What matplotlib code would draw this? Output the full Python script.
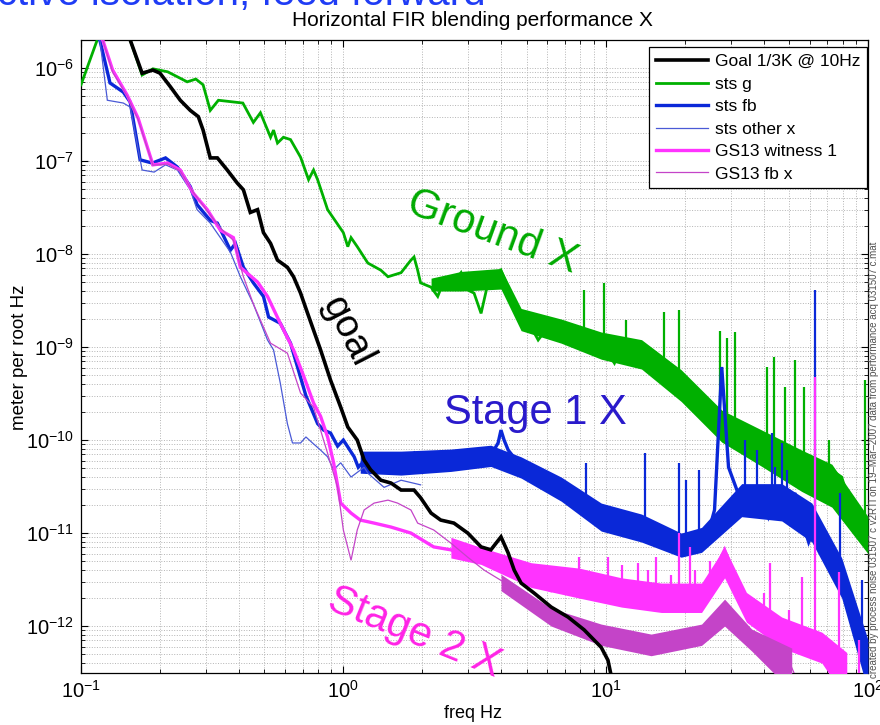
import matplotlib
matplotlib.use('Agg')
import matplotlib.pyplot as plt
from matplotlib.lines import Line2D
from matplotlib.ticker import LogLocator, NullFormatter
import numpy as np

plt.rcParams['font.family'] = ['Liberation Sans', 'DejaVu Sans']
plt.rcParams['mathtext.default'] = 'regular'

# Spectra (freq in Hz, amplitude in m/rtHz)
GOAL_F = [0.12, 0.154, 0.171, 0.188, 0.200, 0.219, 0.239, 0.261, 0.280, 0.292, 0.311, 0.331,
          0.361, 0.394, 0.416, 0.442, 0.471, 0.496, 0.528, 0.561, 0.612, 0.646, 0.687, 0.731,
          0.770, 0.819, 0.894, 0.977, 1.04, 1.13, 1.20, 1.27, 1.39, 1.52, 1.66, 1.86, 1.97,
          2.16, 2.35, 2.64, 2.98, 3.35, 3.65, 3.99, 4.25, 4.48, 4.76, 5.34, 6.20, 7.19, 8.28,
          9.62, 10.2, 10.8]
GOAL_A = [5e-6, 2.0e-6, 8.8e-7, 9.5e-7, 8.8e-7, 6.3e-7, 4.5e-7, 3.5e-7, 3.0e-7, 2.15e-7,
          1.08e-7, 1.08e-7, 8.0e-8, 5.8e-8, 4.9e-8, 2.8e-8, 3.0e-8, 1.7e-8, 1.3e-8, 8.6e-9,
          7.2e-9, 5.7e-9, 3.8e-9, 2.3e-9, 1.52e-9, 9.3e-10, 4.4e-10, 2.26e-10, 1.38e-10,
          1.0e-10, 6.1e-11, 4.8e-11, 3.7e-11, 3.45e-11, 2.9e-11, 2.9e-11, 2.4e-11, 1.64e-11,
          1.38e-11, 1.28e-11, 1.0e-11, 7.1e-12, 6.6e-12, 9.1e-12, 6.1e-12, 4.0e-12, 2.9e-12,
          2.26e-12, 1.6e-12, 1.25e-12, 9.1e-13, 5.9e-13, 4.3e-13, 2.0e-13]

STSG_F = [0.100, 0.118, 0.135, 0.154, 0.171, 0.188, 0.214, 0.254, 0.274, 0.292, 0.311, 0.334,
          0.414, 0.454, 0.483, 0.528, 0.542, 0.561, 0.591, 0.629, 0.687, 0.737, 0.770, 0.798,
          0.871, 1.00, 1.04, 1.07, 1.13, 1.24, 1.39, 1.48, 1.66, 1.81, 1.86, 1.92, 1.97, 2.16,
          2.29, 2.42, 2.57, 2.81, 2.98, 3.15, 3.35, 3.56, 3.75, 3.99, 4.25, 4.48, 4.76, 5.20,
          5.53, 6.03, 6.77, 7.58, 8.58, 9.37, 10.2, 10.8, 11.5, 12.9, 17.3, 20.7, 25.3, 31.0,
          41.8, 49.8, 59.4, 63.8, 70.9, 79.4, 89.1, 100]
STSG_A = [6.6e-7, 2.4e-6, 4.0e-6, 2.0e-6, 8.4e-7, 9.8e-7, 9.1e-7, 7.1e-7, 7.6e-7, 6.6e-7,
          3.5e-7, 4.5e-7, 4.2e-7, 2.6e-7, 3.3e-7, 1.8e-7, 2.15e-7, 1.56e-7, 1.8e-7, 1.7e-7,
          1.1e-7, 6.3e-8, 8.0e-8, 6.3e-8, 3.0e-8, 1.7e-8, 1.2e-8, 1.5e-8, 1.2e-8, 8.0e-9,
          6.7e-9, 5.7e-9, 6.3e-9, 8.6e-9, 9.3e-9, 6.7e-9, 4.9e-9, 4.4e-9, 3.5e-9, 5.2e-9,
          4.4e-9, 6.3e-9, 4.1e-9, 3.8e-9, 2.3e-9, 4.9e-9, 5.2e-9, 6.7e-9, 4.4e-9, 2.5e-9,
          1.95e-9, 1.64e-9, 1.19e-9, 1.64e-9, 1.42e-9, 1.28e-9, 1.19e-9, 8.6e-10, 8.6e-10,
          6.7e-10, 1.0e-9, 1.0e-9, 6.1e-10, 3.45e-10, 1.38e-10, 9.3e-11, 6.6e-11, 6.1e-11,
          6.0e-11, 4.0e-11, 5.0e-11, 4.0e-11, 1.4e-11, 9.0e-12]
STSG_BAND_F = [2.16, 2.81, 3.99, 4.76, 6.77, 9.62, 13.7, 19.4, 27.7, 39.4, 55.9, 72.8, 100]
STSG_BAND_HI = [5.5e-9, 6.5e-9, 7.0e-9, 2.6e-9, 2.0e-9, 1.45e-9, 1.2e-9, 5.7e-10,
                2.1e-10, 1.28e-10, 7.8e-11, 5.5e-11, 1.5e-11]
STSG_BAND_LO = [4.0e-9, 4.0e-9, 4.2e-9, 1.5e-9, 1.1e-9, 7.4e-10, 5.8e-10, 2.6e-10,
                9.5e-11, 5.2e-11, 2.8e-11, 1.9e-11, 6.0e-12]
STSG_SPK_F = [8.28, 9.88, 12.0, 16.7, 19.1, 27.2, 28.9, 31.0, 41.1, 43.7, 48.1, 52.6, 56.9,
              70.9, 97.3]
STSG_SPK_LO = [1.3e-9, 9e-10, 1.0e-9, 6e-10, 5e-10, 1.4e-10, 1.4e-10, 1e-10, 6e-11, 6e-11,
               5e-11, 5e-11, 5e-11, 4e-11, 1e-11]
STSG_SPK_HI = [4.1e-9, 4.9e-9, 1.95e-9, 2.4e-9, 2.5e-9, 1.5e-9, 1.25e-9, 1.44e-9, 6.1e-10,
               7.8e-10, 3.7e-10, 7.2e-10, 3.7e-10, 1.0e-10, 4.4e-10]

STSFB_F = [0.100, 0.118, 0.129, 0.145, 0.154, 0.168, 0.187, 0.210, 0.233, 0.261, 0.277, 0.311,
           0.331, 0.371, 0.388, 0.416, 0.454, 0.496, 0.519, 0.575, 0.629, 0.72, 0.798, 0.841,
           0.894, 0.951, 1.00, 1.10, 1.14, 1.24, 1.31, 1.43, 1.52, 1.66, 1.86, 1.97, 2.21,
           2.57, 2.98, 3.56, 3.89, 3.99, 4.1, 4.25, 4.64, 5.34, 6.20, 7.19, 8.28, 9.62, 11.2,
           12.9, 14.9, 17.3, 20.0, 23.8, 26.0, 27.7, 29.4, 33.0, 39.5, 41.8, 45.7, 49.8, 52.6,
           55.9, 59.4, 62.6, 66.7, 70.9, 74.8, 81.6, 86.7, 92.3, 97.3, 100]
STSFB_A = [3.0e-6, 2.0e-6, 6.9e-7, 5.5e-7, 4.3e-7, 1.03e-7, 9.5e-8, 1.08e-7, 8.6e-8, 5.3e-8,
           3.4e-8, 2.3e-8, 2.15e-8, 1.1e-8, 1.3e-8, 7.2e-9, 4.9e-9, 3.5e-9, 2.1e-9, 1.8e-9,
           1.1e-9, 3.0e-10, 1.5e-10, 1.28e-10, 1.19e-10, 8.6e-11, 1.0e-10, 6.6e-11, 5.1e-11,
           6.6e-11, 5.1e-11, 4.8e-11, 6.1e-11, 5.7e-11, 7.2e-11, 4.8e-11, 4.8e-11, 6.1e-11,
           5.7e-11, 6.1e-11, 9.3e-11, 1.28e-10, 1.0e-10, 7.8e-11, 5.7e-11, 4.8e-11, 3.45e-11,
           2.4e-11, 1.9e-11, 1.38e-11, 1.16e-11, 1.08e-11, 8.4e-12, 6.6e-12, 6.6e-12, 7.1e-12,
           1.77e-11, 6.1e-10, 5.1e-11, 2.1e-11, 2.7e-11, 1.5e-11, 2.7e-11, 1.64e-11, 2.7e-11,
           1.38e-11, 8.0e-12, 1.16e-11, 1.0e-11, 6.6e-12, 4.3e-12, 2.26e-12, 1.38e-12, 7.1e-13,
           4.3e-13, 2.0e-13]
STSFB_BAND_F = [1.16, 1.66, 2.57, 3.65, 4.76, 6.77, 9.62, 13.7, 19.4, 23.2, 33.0, 46.9,
                61.1, 79.4, 100]
STSFB_BAND_HI = [7.6e-11, 7.6e-11, 8.0e-11, 8.8e-11, 6.6e-11, 4.0e-11, 2.1e-11,
                 1.6e-11, 1.0e-11, 1.15e-11, 3.4e-11, 3.4e-11, 2.1e-11, 5.4e-12, 7.1e-13]
STSFB_BAND_LO = [4.4e-11, 4.2e-11, 4.6e-11, 5.2e-11, 3.9e-11, 2.2e-11, 1.05e-11,
                 8.0e-12, 5.5e-12, 6.2e-12, 1.5e-11, 1.35e-11, 8.0e-12, 2.0e-12, 2.0e-13]
STSFB_SPK_F = [8.4, 14.1, 19.1, 20.3, 22.6, 33.9, 37.6, 42.9, 44.1, 46.9, 49.0, 62.6, 78.2, 94.8]
STSFB_SPK_LO = [1.9e-11, 1.1e-11, 6.6e-12, 6.6e-12, 7e-12, 2.1e-11, 2e-11, 1.5e-11, 1.5e-11,
                2e-11, 1.6e-11, 1.0e-11, 4e-12, 7e-13]
STSFB_SPK_HI = [5.7e-11, 7.2e-11, 5.7e-11, 3.7e-11, 4.8e-11, 1.0e-10, 7.8e-11, 1.19e-10,
                5.1e-11, 9.3e-11, 4.8e-11, 4.1e-9, 2.7e-11, 3.1e-12]

STSX_F = [0.100, 0.118, 0.126, 0.145, 0.154, 0.171, 0.190, 0.210, 0.233, 0.261, 0.277, 0.311,
          0.371, 0.405, 0.454, 0.514, 0.542, 0.575, 0.612, 0.640, 0.687, 0.720, 0.763, 0.819,
          0.871, 0.918, 0.977, 1.07, 1.20, 1.24, 1.43, 1.66, 1.97]
STSX_A = [3.0e-6, 2.0e-6, 4.5e-7, 4.2e-7, 3.8e-7, 8.0e-8, 7.6e-8, 9.1e-8, 8.0e-8, 4.9e-8,
          3.0e-8, 2.15e-8, 1.05e-8, 5.7e-9, 2.9e-9, 1.19e-9, 9.3e-10, 4.1e-10, 1.5e-10,
          9.3e-11, 9.3e-11, 1.08e-10, 9.3e-11, 7.8e-11, 6.6e-11, 4.8e-11, 5.7e-11, 4.0e-11,
          5.1e-11, 4.4e-11, 3.1e-11, 3.7e-11, 3.3e-11]

GS13W_F = [0.100, 0.121, 0.132, 0.150, 0.165, 0.188, 0.214, 0.239, 0.268, 0.303, 0.340, 0.381,
           0.405, 0.471, 0.514, 0.575, 0.646, 0.700, 0.770, 0.819, 0.871, 0.918, 0.977, 1.07,
           1.16, 1.31, 1.52, 1.81, 2.21, 2.57, 2.98, 3.44, 3.99, 4.64, 5.34, 6.20, 7.19, 8.28,
           9.62, 11.2, 12.9, 17.3, 23.2, 26.0, 28.4, 30.4, 33.0, 41.8, 49.8, 59.4, 66.7, 74.8,
           86.7]
GS13W_A = [4.0e-6, 2.0e-6, 9.5e-7, 5.1e-7, 2.9e-7, 9.1e-8, 9.5e-8, 8.0e-8, 4.5e-8, 3.0e-8,
           1.8e-8, 1.5e-8, 7.2e-9, 5.0e-9, 3.5e-9, 1.8e-9, 9.3e-10, 5.2e-10, 2.5e-10, 1.8e-10,
           1.08e-10, 5.7e-11, 2.1e-11, 1.64e-11, 1.38e-11, 1.28e-11, 1.16e-11, 1.0e-11,
           7.1e-12, 6.6e-12, 5.5e-12, 5.1e-12, 4.75e-12, 3.4e-12, 2.9e-12, 2.4e-12, 2.9e-12,
           3.4e-12, 2.9e-12, 2.05e-12, 2.05e-12, 1.9e-12, 1.9e-12, 4.0e-12, 6.6e-12, 4.0e-12,
           1.9e-12, 1.0e-12, 8.4e-13, 7.1e-13, 6.6e-13, 4.3e-13, 2.0e-13]
GS13W_BAND_F = [2.57, 3.35, 5.20, 7.93, 11.5, 16.3, 23.2, 28.4, 34.4, 46.9, 66.7, 83.0]
GS13W_BAND_HI = [9.0e-12, 7.0e-12, 4.8e-12, 4.2e-12, 3.3e-12, 2.9e-12, 2.9e-12,
                 7.0e-12, 2.3e-12, 1.25e-12, 8.6e-13, 5.2e-13]
GS13W_BAND_LO = [5.4e-12, 4.6e-12, 2.6e-12, 2.0e-12, 1.6e-12, 1.4e-12, 1.4e-12,
                 3.3e-12, 1.1e-12, 5.8e-13, 4.0e-13, 1.6e-13]
GS13W_SPK_F = [7.93, 10.2, 11.5, 13.3, 14.5, 15.6, 17.8, 19.1, 20.9, 22.0, 25.0, 40.0, 42.3,
               50.0, 56.0, 62.6, 77.4, 92.3]
GS13W_SPK_LO = [3e-12, 2.5e-12, 2.2e-12, 2e-12, 2e-12, 2e-12, 1.9e-12, 2e-12, 2e-12, 2e-12,
                2.5e-12, 1.5e-12, 1.2e-12, 8e-13, 8e-13, 7e-13, 4e-13, 2e-13]
GS13W_SPK_HI = [5.5e-12, 5.5e-12, 4.5e-12, 4.75e-12, 4.0e-12, 5.5e-12, 3.5e-12, 1.0e-11,
                7.1e-12, 4.0e-12, 5.0e-12, 2.26e-12, 4.75e-12, 1.5e-12, 3.4e-12, 4.8e-10,
                3.8e-12, 7.1e-13]

GS13FB_F = [0.100, 0.121, 0.132, 0.150, 0.165, 0.188, 0.214, 0.239, 0.268, 0.303, 0.340, 0.381,
            0.416, 0.454, 0.528, 0.612, 0.687, 0.770, 0.871, 0.951, 1.00, 1.07, 1.13, 1.20,
            1.31, 1.48, 1.61, 1.81, 1.92, 2.21, 2.57, 2.98, 3.44, 3.99, 4.64, 5.34, 6.20, 7.19,
            8.28, 9.62, 11.2, 12.9, 17.3, 23.2, 28.4, 33.0, 41.8, 49.8, 55.9]
GS13FB_A = [4.0e-6, 2.0e-6, 9.0e-7, 5.0e-7, 2.8e-7, 9.0e-8, 9.3e-8, 7.8e-8, 4.6e-8, 2.9e-8,
            1.9e-8, 1.4e-8, 5.7e-9, 2.9e-9, 1.1e-9, 8.6e-10, 3.2e-10, 2.26e-10, 7.2e-11,
            3.1e-11, 1.08e-11, 5.1e-12, 1.08e-11, 1.77e-11, 2.1e-11, 2.26e-11, 2.1e-11, 1.77e-11,
            1.28e-11, 1.08e-11, 7.8e-12, 5.5e-12, 4.0e-12, 3.1e-12, 2.26e-12, 1.6e-12, 1.25e-12,
            1.08e-12, 9.1e-13, 8.4e-13, 6.6e-13, 5.5e-13, 7.1e-13, 9.1e-13, 1.49e-12, 7.6e-13,
            5.5e-13, 4.3e-13, 2.0e-13]
GS13FB_BAND_F = [3.99, 6.20, 9.62, 14.9, 23.2, 28.4, 36.0, 51.2]
GS13FB_BAND_HI = [3.6e-12, 1.55e-12, 1.05e-12, 8.2e-13, 1.05e-12, 1.95e-12, 9.3e-13, 5.8e-13]
GS13FB_BAND_LO = [2.4e-12, 1.0e-12, 6.2e-13, 4.8e-13, 6.2e-13, 1.0e-12, 5.4e-13, 2.0e-13]

LABELS = ['Goal 1/3K @ 10Hz', 'sts g', 'sts fb', 'sts other x', 'GS13 witness 1', 'GS13 fb x']
COLORS = ['black', '#00b000', '#0a28d8', '#4a5ad6', '#ff33ff', '#c444c8']
WIDTHS = [2.6, 2.0, 2.4, 0.9, 2.4, 0.9]
ZORDERS = [8, 3, 4, 5, 6, 7]


def main():
    fig = plt.figure(figsize=(8.8, 7.25), dpi=100)
    ax = fig.add_axes([81 / 880, 1 - 673 / 725, 787 / 880, 633 / 725])

    series = [(GOAL_F, GOAL_A), (STSG_F, STSG_A), (STSFB_F, STSFB_A), (STSX_F, STSX_A),
              (GS13W_F, GS13W_A), (GS13FB_F, GS13FB_A)]
    handles = []
    for (f, a), lab, c, w, z in zip(series, LABELS, COLORS, WIDTHS, ZORDERS):
        assert len(f) == len(a), lab
        ax.plot(f, a, color=c, lw=w, zorder=z, solid_joinstyle='miter')
        handles.append(Line2D([], [], color=c, lw=w, label=lab))

    # dense noise bands of the measured spectra
    bands = [(STSG_BAND_F, STSG_BAND_LO, STSG_BAND_HI, COLORS[1], ZORDERS[1]),
             (STSFB_BAND_F, STSFB_BAND_LO, STSFB_BAND_HI, COLORS[2], ZORDERS[2]),
             (GS13W_BAND_F, GS13W_BAND_LO, GS13W_BAND_HI, COLORS[4], ZORDERS[4]),
             (GS13FB_BAND_F, GS13FB_BAND_LO, GS13FB_BAND_HI, COLORS[5], ZORDERS[5])]
    for f, lo, hi, c, z in bands:
        ax.fill_between(f, lo, hi, color=c, lw=0, zorder=z)

    # line peaks
    spikes = [(STSG_SPK_F, STSG_SPK_LO, STSG_SPK_HI, COLORS[1], ZORDERS[1]),
              (STSFB_SPK_F, STSFB_SPK_LO, STSFB_SPK_HI, COLORS[2], ZORDERS[2]),
              (GS13W_SPK_F, GS13W_SPK_LO, GS13W_SPK_HI, COLORS[4], ZORDERS[4])]
    for f, lo, hi, c, z in spikes:
        ax.vlines(f, lo, hi, color=c, lw=1.6, zorder=z)

    ax.set_xscale('log')
    ax.set_yscale('log')
    ax.set_xlim(0.1, 100)
    ax.set_ylim(3.13e-13, 2.0e-6)
    ax.set_xticks([0.1, 1, 10, 100])
    ax.set_yticks([1e-12, 1e-11, 1e-10, 1e-9, 1e-8, 1e-7, 1e-6])
    for axis in (ax.xaxis, ax.yaxis):
        axis.set_minor_locator(LogLocator(base=10, subs=np.arange(2, 10), numticks=100))
        axis.set_minor_formatter(NullFormatter())
    ax.tick_params(which='both', direction='in', top=True, right=True, labelsize=14.5)
    ax.tick_params(which='major', length=5, pad=5)
    ax.tick_params(which='minor', length=3)
    ax.grid(True, which='both', linestyle=':', linewidth=0.7, color='#b4b4b4')
    for s in ax.spines.values():
        s.set_linewidth(0.9)

    leg = ax.legend(handles=handles, loc='upper right', bbox_to_anchor=(1.0, 0.99),
                    borderaxespad=0.05, fontsize=12.5, frameon=True, fancybox=False,
                    framealpha=1, edgecolor='black', handlelength=3.0,
                    handletextpad=0.4, labelspacing=0.42, borderpad=0.4)
    leg.get_frame().set_linewidth(0.9)
    leg.set_zorder(20)

    # hand-drawn style annotations
    ax.text(3.72, 1.73e-8, 'Ground X', color='#00aa00', fontsize=30, rotation=-20,
            ha='center', va='center', rotation_mode='anchor', zorder=15)
    ax.text(1.03, 1.45e-9, 'goal', color='black', fontsize=28, rotation=-63,
            ha='center', va='center', rotation_mode='anchor', zorder=15)
    ax.text(5.38, 1.95e-10, 'Stage 1 X', color='#2a1acb', fontsize=30,
            ha='center', va='center', zorder=15)
    ax.text(1.87, 8.4e-13, 'Stage 2 X', color='#ff22e6', fontsize=30, rotation=-22,
            ha='center', va='center', rotation_mode='anchor', zorder=15, clip_on=False)

    fig.text(0.537, 1 - 20 / 725, 'Horizontal FIR blending performance X',
             ha='center', va='center', fontsize=15)
    fig.text(-0.034, 1 - 5 / 725, 'Active isolation, feed forward', color='#1f3cf5',
             fontsize=29, ha='left', va='baseline')
    fig.text(0.537, 1 - 713 / 725, 'freq Hz', ha='center', va='center', fontsize=13)
    fig.text(20 / 880, 1 - 357 / 725, 'meter per root Hz', ha='center', va='center',
             rotation=90, fontsize=13.5)
    fig.text(874 / 880, 1 - 678 / 725,
             'created by process noise 031507 c v2RTI on 19\u2013Mar\u20132007 data from '
             'performance acq 031507 c.mat',
             ha='center', va='bottom', rotation=90, fontsize=7, color='#505050')

    fig.savefig('out.png', dpi=100)


if __name__ == '__main__':
    main()
